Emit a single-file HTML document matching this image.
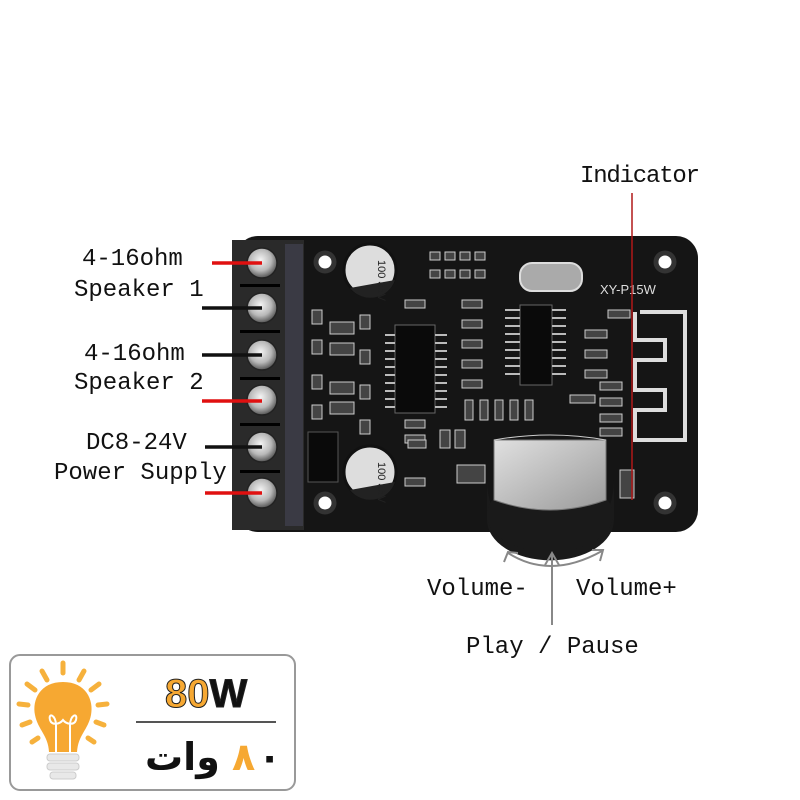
<!DOCTYPE html>
<html><head><meta charset="utf-8"><style>
html,body{margin:0;padding:0;background:#fff;width:800px;height:800px;overflow:hidden}
svg{display:block}
.t{font-family:"Liberation Mono","DejaVu Sans Mono",monospace;font-size:24px;fill:#111}
.ar{font-family:"Liberation Sans","Noto Sans CJK SC","DejaVu Sans",sans-serif;font-weight:bold;font-size:38px}
</style></head><body>
<svg width="800" height="800" viewBox="0 0 800 800" xmlns="http://www.w3.org/2000/svg">
<defs>
<radialGradient id="sc" cx="45%" cy="40%" r="60%"><stop offset="0" stop-color="#f4f4f4"/><stop offset="0.6" stop-color="#b8b8b8"/><stop offset="1" stop-color="#555"/></radialGradient>
<linearGradient id="kn" x1="0" y1="0" x2="1" y2="1"><stop offset="0" stop-color="#e0e0e0"/><stop offset="1" stop-color="#9a9a9a"/></linearGradient>
</defs>
<rect x="236" y="236" width="462" height="296" rx="22" fill="#151515"/>
<rect x="232" y="240" width="72" height="290" fill="#2a2a2a"/>
<rect x="285" y="244" width="18" height="282" fill="#3a3a44"/>
<g fill="url(#sc)" stroke="#222" stroke-width="1.5">
<circle cx="262" cy="263" r="15"/><circle cx="262" cy="308" r="15"/><circle cx="262" cy="355" r="15"/>
<circle cx="262" cy="400" r="15"/><circle cx="262" cy="447" r="15"/><circle cx="262" cy="493" r="15"/>
</g>
<g fill="#000"><rect x="240" y="284" width="40" height="3"/><rect x="240" y="330" width="40" height="3"/><rect x="240" y="377" width="40" height="3"/><rect x="240" y="423" width="40" height="3"/><rect x="240" y="470" width="40" height="3"/></g>
<g fill="#fff" stroke="#333" stroke-width="5"><circle cx="325" cy="262" r="9"/><circle cx="665" cy="262" r="9"/><circle cx="325" cy="503" r="9"/><circle cx="665" cy="503" r="9"/></g>
<g><circle cx="370" cy="270" r="26" fill="#ddd" stroke="#111" stroke-width="3"/><path d="M350 288 A26 26 0 0 0 395 280 Z" fill="#222"/>
<text x="360" y="262" transform="rotate(90 370 270)" font-family="Liberation Sans" font-size="11" fill="#222">100 35V</text>
<circle cx="370" cy="472" r="26" fill="#ddd" stroke="#111" stroke-width="3"/><path d="M350 490 A26 26 0 0 0 395 482 Z" fill="#222"/>
<text x="360" y="464" transform="rotate(90 370 472)" font-family="Liberation Sans" font-size="11" fill="#222">100 35V</text></g>
<rect x="395" y="325" width="40" height="88" fill="#0a0a0a" stroke="#666" stroke-width="1"/>
<g stroke="#bbb" stroke-width="2">
<path d="M385 335h10M385 343h10M385 351h10M385 359h10M385 367h10M385 375h10M385 383h10M385 391h10M385 399h10M385 407h10"/>
<path d="M435 335h12M435 343h12M435 351h12M435 359h12M435 367h12M435 375h12M435 383h12M435 391h12M435 399h12M435 407h12"/>
</g>
<rect x="520" y="305" width="32" height="80" fill="#0a0a0a" stroke="#666" stroke-width="1"/>
<g stroke="#bbb" stroke-width="2">
<path d="M505 310h15M505 318h15M505 326h15M505 334h15M505 342h15M505 350h15M505 358h15M505 366h15M505 374h15"/>
<path d="M552 310h14M552 318h14M552 326h14M552 334h14M552 342h14M552 350h14M552 358h14M552 366h14M552 374h14"/>
</g>
<rect x="520" y="263" width="62" height="28" rx="12" fill="#aaa" stroke="#ddd" stroke-width="2"/>
<text x="600" y="294" font-family="Liberation Sans" font-size="13" fill="#ddd">XY-P15W</text>
<g fill="#444" stroke="#ccc" stroke-width="1">
<rect x="430" y="252" width="10" height="8"/><rect x="445" y="252" width="10" height="8"/><rect x="460" y="252" width="10" height="8"/><rect x="475" y="252" width="10" height="8"/>
<rect x="430" y="270" width="10" height="8"/><rect x="445" y="270" width="10" height="8"/><rect x="460" y="270" width="10" height="8"/><rect x="475" y="270" width="10" height="8"/>
<rect x="312" y="310" width="10" height="14"/><rect x="312" y="340" width="10" height="14"/><rect x="312" y="375" width="10" height="14"/><rect x="312" y="405" width="10" height="14"/>
<rect x="330" y="322" width="24" height="12"/><rect x="330" y="343" width="24" height="12"/><rect x="330" y="382" width="24" height="12"/><rect x="330" y="402" width="24" height="12"/>
<rect x="360" y="315" width="10" height="14"/><rect x="360" y="350" width="10" height="14"/><rect x="360" y="385" width="10" height="14"/><rect x="360" y="420" width="10" height="14"/>
<rect x="405" y="300" width="20" height="8"/><rect x="405" y="420" width="20" height="8"/><rect x="405" y="435" width="20" height="8"/>
<rect x="462" y="300" width="20" height="8"/><rect x="462" y="320" width="20" height="8"/><rect x="462" y="340" width="20" height="8"/><rect x="462" y="360" width="20" height="8"/><rect x="462" y="380" width="20" height="8"/>
<rect x="465" y="400" width="8" height="20"/><rect x="480" y="400" width="8" height="20"/><rect x="495" y="400" width="8" height="20"/><rect x="510" y="400" width="8" height="20"/><rect x="525" y="400" width="8" height="20"/>
<rect x="585" y="330" width="22" height="8"/><rect x="585" y="350" width="22" height="8"/><rect x="585" y="370" width="22" height="8"/>
<rect x="570" y="395" width="25" height="8"/><rect x="600" y="382" width="22" height="8"/><rect x="600" y="398" width="22" height="8"/><rect x="600" y="414" width="22" height="8"/><rect x="600" y="428" width="22" height="8"/>
<rect x="440" y="430" width="10" height="18"/><rect x="455" y="430" width="10" height="18"/><rect x="408" y="440" width="18" height="8"/>
<rect x="457" y="465" width="28" height="18"/><rect x="405" y="478" width="20" height="8"/><rect x="608" y="310" width="22" height="8"/>
<rect x="620" y="470" width="14" height="28"/>
</g>
<rect x="308" y="432" width="30" height="50" fill="#0a0a0a" stroke="#555"/>
<path d="M640 312h45v128h-50v-30h30v-20h-30v-30h30v-20h-30v-28" fill="none" stroke="#ddd" stroke-width="4"/>
<path d="M487 480 A63 70 0 0 0 614 480 L614 520 A63 40 0 0 1 487 520 Z" fill="#1a1a1a"/>
<ellipse cx="550" cy="515" rx="63" ry="37" fill="#1a1a1a"/>
<path d="M494 440 L606 440 L606 500 Q550 520 494 500 Z" fill="url(#kn)" stroke="#777"/>
<path d="M494 440 Q550 430 606 440" fill="none" stroke="#ccc"/>
<g stroke-width="3.5">
<line x1="212" y1="263" x2="262" y2="263" stroke="#e01010"/>
<line x1="202" y1="308" x2="262" y2="308" stroke="#111"/>
<line x1="202" y1="355" x2="262" y2="355" stroke="#111"/>
<line x1="202" y1="401" x2="262" y2="401" stroke="#e01010"/>
<line x1="205" y1="447" x2="262" y2="447" stroke="#111"/>
<line x1="205" y1="493" x2="262" y2="493" stroke="#e01010"/>
</g>
<line x1="632" y1="193" x2="632" y2="500" stroke="#b01818" stroke-width="1.5"/>
<g fill="none" stroke="#888" stroke-width="2">
<path d="M508 553 Q550 580 602 551"/>
<path d="M504 562 L508 552 L518 553"/>
<path d="M592 550 L603 550 L600 561"/>
<line x1="552" y1="555" x2="552" y2="625"/>
<path d="M545 565 L552 553 L559 565"/>
</g>
<text class="t" x="82" y="265">4-16ohm</text>
<text class="t" x="74" y="296">Speaker 1</text>
<text class="t" x="84" y="360">4-16ohm</text>
<text class="t" x="74" y="389">Speaker 2</text>
<text class="t" x="86" y="449">DC8-24V</text>
<text class="t" x="54" y="479">Power Supply</text>
<text class="t" x="580" y="182" textLength="120">Indicator</text>
<text class="t" x="427" y="595">Volume-</text>
<text class="t" x="576" y="595">Volume+</text>
<text class="t" x="466" y="653">Play / Pause</text>
<rect x="10" y="655" width="285" height="135" rx="10" fill="#fff" stroke="#999" stroke-width="2"/>
<g stroke="#f6b13c" stroke-width="5" stroke-linecap="round">
<line x1="63" y1="663" x2="63" y2="673"/><line x1="42" y1="671" x2="47" y2="680"/><line x1="84" y1="671" x2="79" y2="680"/>
<line x1="27" y1="684" x2="35" y2="690"/><line x1="99" y1="684" x2="91" y2="690"/>
<line x1="19" y1="704" x2="28" y2="705"/><line x1="107" y1="704" x2="98" y2="705"/>
<line x1="22" y1="725" x2="30" y2="722"/><line x1="104" y1="725" x2="96" y2="722"/>
<line x1="32" y1="742" x2="38" y2="738"/><line x1="94" y1="742" x2="88" y2="738"/>
</g>
<path d="M63 682 C40 682 32 700 35 715 C38 730 48 735 49 752 L77 752 C78 735 88 730 91 715 C94 700 86 682 63 682 Z" fill="#f6a832"/>
<path d="M56 752 L56 725 C56 715 48 712 50 720 C52 726 60 724 63 720 C66 724 74 726 76 720 C78 712 70 715 70 725 L70 752" fill="none" stroke="#fff" stroke-width="2"/>
<g fill="#e8e8e8" stroke="#ccc"><rect x="47" y="754" width="32" height="7" rx="3"/><rect x="47" y="763" width="32" height="7" rx="3"/><rect x="50" y="772" width="26" height="7" rx="3"/></g>
<text x="165" y="707" font-family="Liberation Sans" font-weight="bold" font-size="40" fill="#f6a832" stroke="#222" stroke-width="1">80<tspan fill="#111">W</tspan></text>
<line x1="136" y1="722" x2="276" y2="722" stroke="#555" stroke-width="2"/>
<text class="ar" x="145" y="770" fill="#111">وات</text>
<text class="ar" x="232" y="770" fill="#f6a832">٨</text>
<text class="ar" x="258" y="770" fill="#111">٠</text>
</svg>
</body></html>
